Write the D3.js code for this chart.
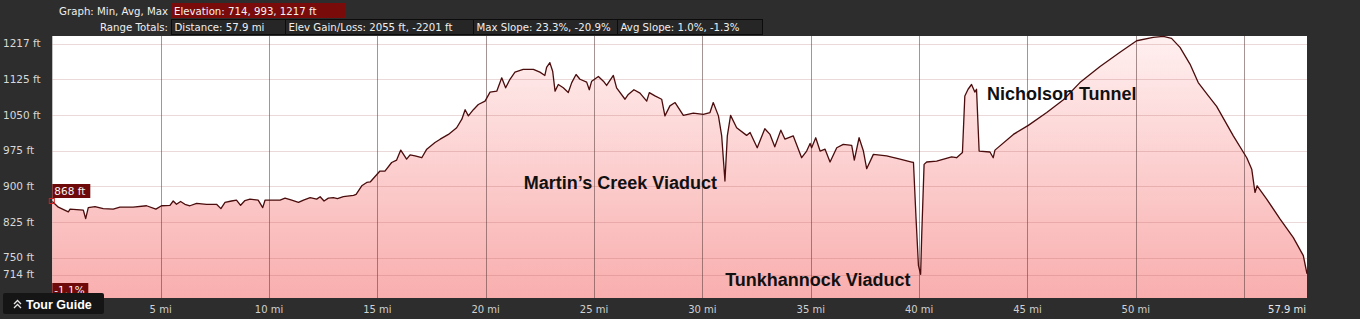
<!DOCTYPE html>
<html>
<head>
<meta charset="utf-8">
<script src="https://cdn.jsdelivr.net/npm/d3@7/dist/d3.min.js"></script>
<style>
  html, body { margin: 0; padding: 0; background: #2d2d2d; }
  svg { display: block; }
</style>
</head>
<body>
<svg id="chart" width="1360" height="319"></svg>
<script>
// Elevation profile: distance (mi) vs elevation (ft)

const miles = [
  0, 0.28, 0.74, 0.82, 1.43, 1.54, 1.66, 1.97, 2.35, 2.81, 3.12, 3.73, 4.35, 4.78,
  5.04, 5.43, 5.58, 5.73, 5.92, 6.12, 6.35, 6.66, 7.12, 7.58, 7.78, 7.97, 8.27, 8.5,
  8.69, 8.89, 9.12, 9.5, 9.71, 9.82, 10.51, 10.74, 11.05, 11.36, 11.59, 11.9, 12.2,
  12.36, 12.54, 12.74, 12.97, 13.16, 13.43, 13.9, 14.02, 14.28, 14.51, 14.67, 15.12,
  15.35, 15.66, 15.89, 16.08, 16.35, 16.51, 16.74, 17.05, 17.28, 17.66, 17.9, 18.28,
  18.66, 18.9, 19.05, 19.2, 19.43, 19.66, 19.97, 20.2, 20.51, 20.74, 20.92, 21.12,
  21.35, 21.73, 22.2, 22.5, 22.73, 22.81, 22.96, 23.09, 23.2, 23.35, 23.58, 23.81,
  23.97, 24.17, 24.35, 24.66, 24.78, 24.89, 25.2, 25.43, 25.58, 25.89, 26.04, 26.43,
  26.58, 26.84, 27.12, 27.43, 27.55, 27.81, 28.12, 28.27, 28.5, 28.74, 29.12, 29.58,
  30.04, 30.35, 30.5, 30.74, 30.89, 31.04, 31.15, 31.3, 31.58, 32.04, 32.2, 32.53,
  32.88, 33.12, 33.34, 33.62, 33.81, 34.19, 34.58, 34.81, 34.97, 35.04, 35.23, 35.43,
  35.66, 35.89, 36.2, 36.5, 36.89, 37.01, 37.23, 37.43, 37.58, 37.89, 38.5, 39.12,
  39.66, 39.74, 39.86, 39.97, 40.07, 40.12, 40.23, 40.35, 40.81, 41.5, 41.73, 42.0,
  42.11, 42.26, 42.42, 42.57, 42.65, 42.77, 43.27, 43.42, 43.5, 44.35, 45.04, 45.89,
  46.66, 47.42, 48.35, 49.27, 50.04, 50.8, 51.27, 51.65, 52.04, 52.5, 52.88, 53.35,
  53.73, 54.5, 55.12, 55.35, 55.5, 55.6, 56.04, 56.66, 57.27, 57.73, 57.9
];

const elev = [
  868, 856, 846, 852, 850, 832, 855, 857, 853, 852, 856, 856, 859, 852,
  859, 860, 869, 862, 868, 862, 859, 864, 862, 862, 853, 866, 869, 871,
  860, 870, 873, 871, 855, 871, 871, 875, 871, 866, 871, 876, 873,
  878, 869, 875, 876, 874, 878, 881, 883, 901, 908, 909, 932,
  932, 950, 955, 976, 957, 966, 964, 960, 978, 992, 999, 1009,
  1023, 1041, 1061, 1048, 1061, 1072, 1079, 1098, 1100, 1128, 1107, 1125,
  1140, 1146, 1146, 1140, 1133, 1150, 1160, 1142, 1100, 1114, 1107, 1097,
  1118, 1135, 1125, 1119, 1103, 1121, 1131, 1121, 1112, 1133, 1107, 1083,
  1093, 1103, 1096, 1079, 1097, 1090, 1083, 1048, 1069, 1076, 1049, 1054,
  1051, 1055, 1076, 1048, 1006, 911, 1006, 1049, 1023, 1007, 1013, 981,
  1021, 1009, 983, 1018, 999, 1006, 960, 974, 990, 981, 1002, 974,
  978, 951, 981, 988, 986, 955, 1002, 974, 937, 967, 964, 957,
  951, 950, 831, 733, 715, 796, 946, 951, 953, 962, 960, 971,
  1090, 1104, 1114, 1098, 1104, 974, 972, 960, 976, 1009, 1028, 1055,
  1082, 1118, 1152, 1182, 1206, 1213, 1215, 1211, 1192, 1157, 1118, 1090,
  1068, 1006, 960, 936, 887, 901, 873, 831, 792, 754, 716
];

const yTickValues = [1200, 1125, 1050, 975, 900, 825, 750, 714];
const yTickLabels = ["1217 ft", "1125 ft", "1050 ft", "975 ft", "900 ft", "825 ft", "750 ft", "714 ft"];
const xGridValues = [5, 10, 15, 20, 25, 30, 35, 40, 45, 50, 55];
const xTickValues = [5, 10, 15, 20, 25, 30, 35, 40, 45, 50];
const totalDistance = 57.9;

const headerRow1Label = "Graph: Min, Avg, Max";
const headerRow1Value = "Elevation: 714, 993, 1217 ft";
const headerRow2Label = "Range Totals:";
const headerRow2Values = [
  "Distance: 57.9 mi",
  "Elev Gain/Loss: 2055 ft, -2201 ft",
  "Max Slope: 23.3%, -20.9%",
  "Avg Slope: 1.0%, -1.3%"
];

const annotations = [
  { text: "Martin\u2019s Creek Viaduct", mi: 21.76, ft: 894 },
  { text: "Tunkhannock Viaduct", mi: 31.05, ft: 690 },
  { text: "Nicholson Tunnel", mi: 43.13, ft: 1081 }
];

const startLabel = "868 ft";
const slopeLabel = "-1.1%";

const svg = d3.select("#chart");
const width = +svg.attr("width");
const height = +svg.attr("height");

const plot = { left: 52.3, right: 1307, top: 36, bottom: 298 };

const x = d3.scaleLinear().domain([0, totalDistance]).range([plot.left, plot.right]);
const y = d3.scaleLinear().domain([665, 1216]).range([plot.bottom, plot.top]);

const data = miles.map((m, i) => ({ mi: m, ft: elev[i] }));

svg.append("rect")
  .attr("width", width)
  .attr("height", height)
  .attr("fill", "#2d2d2d");

const defs = svg.append("defs");
const grad = defs.append("linearGradient")
  .attr("id", "fillGrad")
  .attr("gradientUnits", "userSpaceOnUse")
  .attr("x1", 0).attr("y1", plot.top)
  .attr("x2", 0).attr("y2", plot.bottom);
grad.append("stop").attr("offset", "0%").attr("stop-color", "#fff0f0");
grad.append("stop").attr("offset", "100%").attr("stop-color", "#f9aeae");

// plot background
svg.append("rect")
  .attr("x", plot.left)
  .attr("y", plot.top)
  .attr("width", plot.right - plot.left)
  .attr("height", plot.bottom - plot.top)
  .attr("fill", "#ffffff");

const area = d3.area()
  .x(d => x(d.mi))
  .y0(plot.bottom)
  .y1(d => y(d.ft));

svg.append("path")
  .datum(data)
  .attr("d", area)
  .attr("fill", "url(#fillGrad)");

// grid
svg.append("g")
  .selectAll("line")
  .data(yTickValues)
  .join("line")
  .attr("x1", plot.left)
  .attr("x2", plot.right)
  .attr("y1", d => Math.round(y(d)) + 0.5)
  .attr("y2", d => Math.round(y(d)) + 0.5)
  .attr("stroke", "rgba(170, 90, 90, 0.24)")
  .attr("stroke-width", 1);

svg.append("g")
  .selectAll("line")
  .data(xGridValues)
  .join("line")
  .attr("x1", d => Math.round(x(d)) + 0.5)
  .attr("x2", d => Math.round(x(d)) + 0.5)
  .attr("y1", plot.top)
  .attr("y2", plot.bottom)
  .attr("stroke", "rgba(90, 60, 60, 0.55)")
  .attr("stroke-width", 1);

const line = d3.line()
  .x(d => x(d.mi))
  .y(d => y(d.ft));

svg.append("path")
  .datum(data)
  .attr("d", line)
  .attr("fill", "none")
  .attr("stroke", "#4a0c0c")
  .attr("stroke-width", 1.3)
  .attr("stroke-linejoin", "round");

// y labels
svg.append("g")
  .selectAll("text")
  .data(yTickValues)
  .join("text")
  .attr("x", 3)
  .attr("y", d => y(d))
  .attr("dy", "0.35em")
  .attr("fill", "#d8d8d8")
  .attr("font-family", "DejaVu Sans, sans-serif")
  .attr("font-size", 10.5)
  .text((d, i) => yTickLabels[i]);

// x labels
svg.append("g")
  .selectAll("text")
  .data(xTickValues)
  .join("text")
  .attr("x", d => x(d))
  .attr("y", 313)
  .attr("text-anchor", "middle")
  .attr("fill", "#d0d0d0")
  .attr("font-family", "DejaVu Sans, sans-serif")
  .attr("font-size", 10)
  .text(d => `${d} mi`);

svg.append("text")
  .attr("x", x(totalDistance) - 1)
  .attr("y", 313)
  .attr("text-anchor", "end")
  .attr("fill", "#e6e6e6")
  .attr("font-family", "DejaVu Sans, sans-serif")
  .attr("font-size", 10)
  .text(`${totalDistance} mi`);

// annotations
svg.append("g")
  .selectAll("text")
  .data(annotations)
  .join("text")
  .attr("x", d => x(d.mi))
  .attr("y", d => y(d.ft))
  .attr("fill", "#111")
  .attr("font-family", "Liberation Sans, Arial, sans-serif")
  .attr("font-weight", "bold")
  .attr("font-size", 18)
  .text(d => d.text);

// start marker and labels
svg.append("rect")
  .attr("x", x(0) - 3)
  .attr("y", y(elev[0]) - 3)
  .attr("width", 5)
  .attr("height", 5)
  .attr("fill", "none")
  .attr("stroke", "#cc2020")
  .attr("stroke-width", 1);

function tag(text, tx, ty, w) {
  svg.append("rect")
    .attr("x", tx)
    .attr("y", ty)
    .attr("width", w)
    .attr("height", 14)
    .attr("fill", "#6e0a0a");
  svg.append("text")
    .attr("x", tx + 2)
    .attr("y", ty + 11)
    .attr("fill", "#f4f4f4")
    .attr("font-family", "DejaVu Sans, sans-serif")
    .attr("font-size", 10.5)
    .text(text);
}
tag(startLabel, plot.left, 184, 38);
tag(slopeLabel, plot.left, 283, 36);

// tour guide button
const tg = svg.append("g");
tg.append("rect")
  .attr("x", 3)
  .attr("y", 293)
  .attr("width", 101)
  .attr("height", 21)
  .attr("rx", 2)
  .attr("fill", "#151515");
tg.append("path")
  .attr("d", "M14,304 L17.5,300.5 L21,304 M14,308 L17.5,304.5 L21,308")
  .attr("fill", "none")
  .attr("stroke", "#e8e8e8")
  .attr("stroke-width", 1.3);
tg.append("text")
  .attr("x", 26)
  .attr("y", 309)
  .attr("fill", "#ffffff")
  .attr("font-family", "Liberation Sans, Arial, sans-serif")
  .attr("font-weight", "bold")
  .attr("font-size", 12.5)
  .text("Tour Guide");

// header
const headerFont = "DejaVu Sans, sans-serif";
const headerSize = 10.2;
svg.append("text")
  .attr("x", 168)
  .attr("y", 15)
  .attr("text-anchor", "end")
  .attr("fill", "#efefef")
  .attr("font-family", headerFont)
  .attr("font-size", headerSize)
  .text(headerRow1Label);

svg.append("rect")
  .attr("x", 171)
  .attr("y", 3)
  .attr("width", 174)
  .attr("height", 15)
  .attr("fill", "#7a0b0b");
svg.append("text")
  .attr("x", 174)
  .attr("y", 15)
  .attr("fill", "#f2f2f2")
  .attr("font-family", headerFont)
  .attr("font-size", headerSize)
  .text(headerRow1Value);

svg.append("text")
  .attr("x", 168)
  .attr("y", 31)
  .attr("text-anchor", "end")
  .attr("fill", "#efefef")
  .attr("font-family", headerFont)
  .attr("font-size", headerSize)
  .text(headerRow2Label);

const boxEdges = [171, 285, 473, 617, 762];
headerRow2Values.forEach((t, i) => {
  svg.append("rect")
    .attr("x", boxEdges[i] + 0.5)
    .attr("y", 19.5)
    .attr("width", boxEdges[i + 1] - boxEdges[i])
    .attr("height", 15)
    .attr("fill", "#262626")
    .attr("stroke", "#0c0c0c")
    .attr("stroke-width", 1);
  svg.append("text")
    .attr("x", boxEdges[i] + 3.5)
    .attr("y", 31)
    .attr("fill", "#efefef")
    .attr("font-family", headerFont)
    .attr("font-size", headerSize)
    .text(t);
});
</script>
</body>
</html>
